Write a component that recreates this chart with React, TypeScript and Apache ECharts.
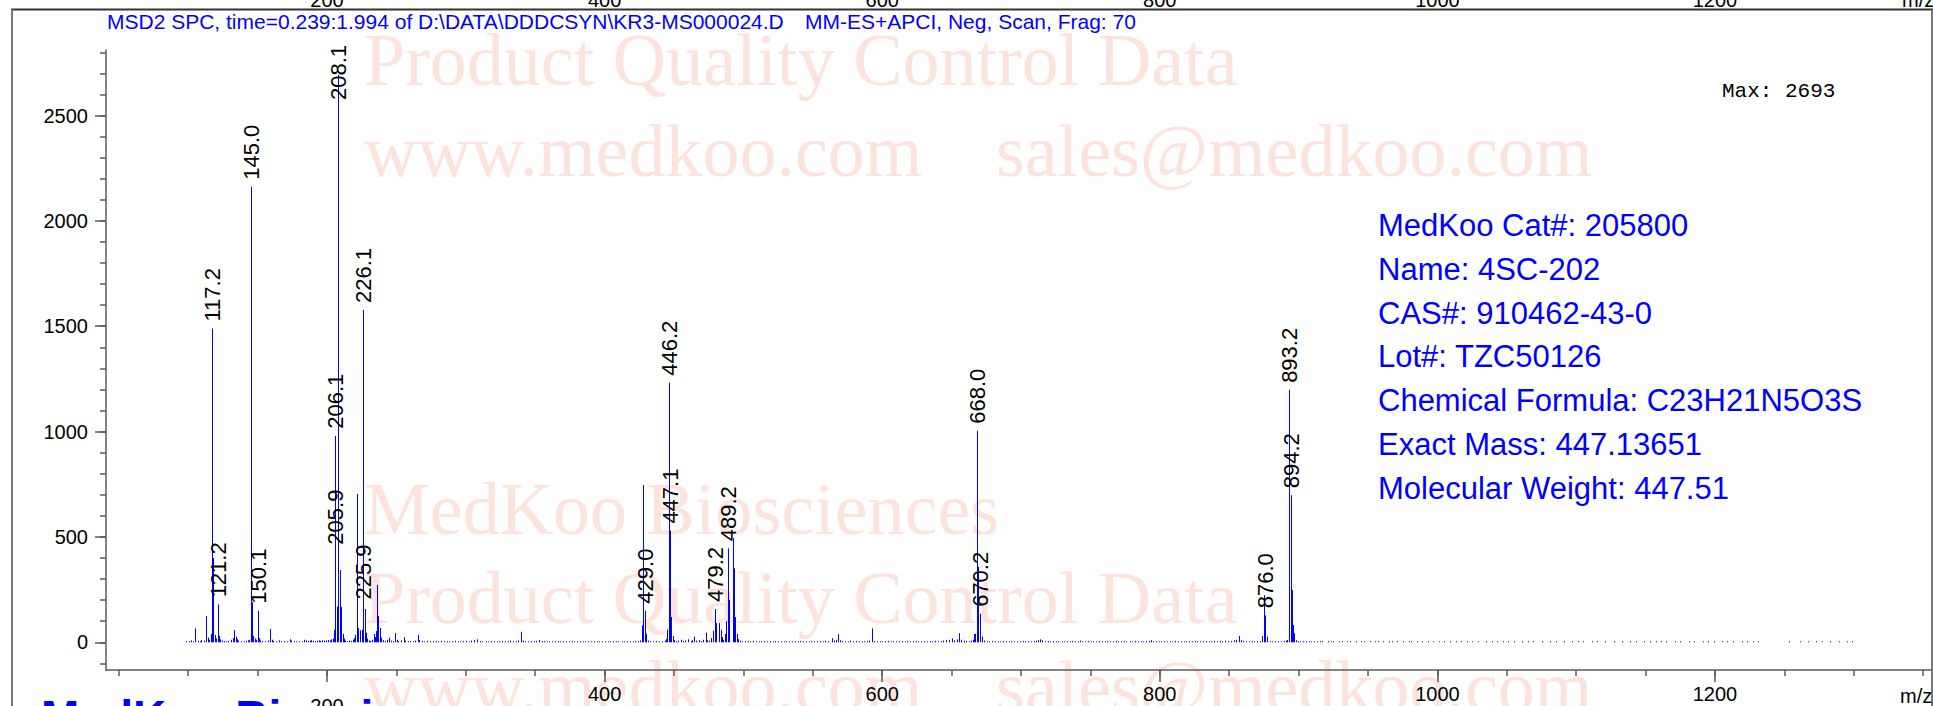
import React, { useEffect, useRef } from "react";
import * as echarts from "echarts";

// ---------------- DATA ----------------
const TITLE_LEFT = "MSD2 SPC, time=0.239:1.994 of D:\\DATA\\DDDCSYN\\KR3-MS000024.D";
const TITLE_RIGHT = "MM-ES+APCI, Neg, Scan, Frag: 70";
const MAX_TEXT = "Max: 2693";
const INFO_LINES = [
  "MedKoo Cat#: 205800",
  "Name: 4SC-202",
  "CAS#: 910462-43-0",
  "Lot#: TZC50126",
  "Chemical Formula: C23H21N5O3S",
  "Exact Mass: 447.13651",
  "Molecular Weight: 447.51",
];
const WATERMARK_LINES = [
  "Product Quality Control Data",
  "www.medkoo.com",
  "sales@medkoo.com",
  "MedKoo Biosciences",
  "Product Quality Control Data",
  "www.medkoo.com",
  "sales@medkoo.com",
];

const X_MAJOR_TICKS = [200, 400, 600, 800, 1000, 1200];
const X_MINOR_TICKS = [50, 100, 150, 200, 250, 300, 350, 400, 450, 500, 550, 600, 650, 700, 750, 800, 850, 900, 950, 1000, 1050, 1100, 1150, 1200, 1250, 1300, 1350];
const Y_MAJOR_TICKS = [0, 500, 1000, 1500, 2000, 2500];
const Y_MINOR_TICKS = [-100, 0, 100, 200, 300, 400, 500, 600, 700, 800, 900, 1000, 1100, 1200, 1300, 1400, 1500, 1600, 1700, 1800, 1900, 2000, 2100, 2200, 2300, 2400, 2500, 2600, 2700, 2800];

// main peaks: m/z and abundance
const PEAK_MZ = [
  113.0, 116.2, 117.2, 118.1, 121.2, 122.2, 133.2, 134.4, 145.0, 146.0, 147.0, 150.1, 151.1, 158.9, 173.3,
  204.9, 205.9, 206.1, 207.1, 208.1, 209.2, 210.1, 221.4, 222.6, 223.8, 225.0, 225.9, 226.1, 227.1,
  235.3, 235.8, 237.0, 238.2, 427.2, 428.0, 429.0, 430.0, 445.1, 446.2, 447.1, 448.1, 449.1,
  479.2, 480.3, 482.4, 483.6, 489.2, 489.9, 492.3, 493.2, 494.2, 667.0, 668.0, 668.8, 670.2,
  875.0, 876.0, 877.2, 893.2, 894.2, 895.1, 896.1, 897.0,
];
const PEAK_INT = [
  125, 40, 1489, 400, 180, 30, 58, 27, 2162, 190, 30, 150, 20, 63, 14,
  60, 430, 980, 170, 2693, 343, 168, 704, 68, 57, 60, 170, 1577, 158,
  53, 272, 125, 68, 80, 747, 150, 40, 60, 1232, 530, 120, 30,
  158, 91, 91, 60, 446, 200, 494, 351, 120, 40, 1004, 359, 135,
  224, 128, 27, 1198, 698, 248, 82, 43,
];

// labelled peaks
const LABEL_MZ = [117.2, 121.2, 145.0, 150.1, 205.9, 206.1, 208.1, 225.9, 226.1, 429.0, 446.2, 447.1, 479.2, 489.2, 668.0, 670.2, 876.0, 893.2, 894.2];
const LABEL_TEXT = ["117.2", "121.2", "145.0", "150.1", "205.9", "206.1", "208.1", "225.9", "226.1", "429.0", "446.2", "447.1", "479.2", "489.2", "668.0", "670.2", "876.0", "893.2", "894.2"];

// low-level baseline signals [m/z, abundance]
const NOISE: [number, number][] = [
  [98.6, 4], [100.6, 6], [102.1, 9], [103.4, 4], [105.1, 66], [107.0, 7], [108.2, 5], [109.3, 11], [111.2, 8], [114.3, 22], [115.2, 12], [119.3, 35], [120.2, 18],
  [123.1, 14], [124.3, 9], [125.5, 6], [127.2, 5], [128.9, 7], [131.0, 12], [132.1, 20], [135.3, 15], [136.2, 8], [138.1, 5], [140.2, 4], [141.5, 7], [143.1, 9], [144.1, 12],
  [148.1, 18], [149.1, 12], [152.0, 9], [153.2, 6], [155.1, 5], [157.2, 8], [160.1, 12], [161.2, 6], [163.0, 4], [165.2, 9], [167.1, 4], [169.3, 6], [171.2, 5], [174.4, 8],
  [176.2, 3], [178.0, 4], [180.0, 3], [182.1, 4], [183.5, 12], [184.8, 9], [186.1, 7], [187.4, 8], [188.8, 10], [190.1, 7], [191.3, 6], [192.7, 8], [194.0, 9], [195.2, 7],
  [196.6, 10], [198.0, 8], [199.3, 9], [200.7, 11], [202.0, 9], [203.2, 14], [204.3, 18],
  [211.2, 40], [212.3, 18], [213.2, 8], [214.6, 5], [216.1, 9], [217.3, 7], [218.5, 12], [219.6, 20], [220.5, 35], [228.2, 45], [229.1, 18], [230.2, 9], [231.3, 6],
  [232.4, 12], [233.7, 40], [234.5, 25], [239.1, 22], [240.2, 10], [241.5, 6], [243.0, 12], [244.7, 22], [246.0, 8], [247.2, 5], [249.0, 43], [250.2, 12], [251.3, 6],
  [253.1, 9], [255.2, 24], [256.4, 8], [258.1, 5], [260.0, 6], [262.2, 4], [263.4, 8], [265.4, 35], [266.5, 10], [268.1, 6], [270.2, 4], [272.1, 7], [274.0, 5],
  [276.1, 6], [278.3, 4], [280.0, 5], [282.2, 7], [284.1, 4], [286.3, 6], [288.0, 4], [290.2, 5], [292.1, 7], [294.3, 4], [296.0, 5], [298.2, 3], [300.1, 6],
  [302.3, 4], [304.1, 8], [306.2, 10], [308.4, 14], [310.2, 6], [312.0, 4], [314.3, 5], [316.1, 3], [318.2, 6], [320.0, 4], [322.3, 5], [324.1, 3], [326.2, 7],
  [328.0, 4], [330.3, 6], [332.1, 8], [334.2, 5], [336.0, 4], [337.8, 9], [339.5, 50], [341.2, 8], [343.0, 5], [345.1, 4], [347.3, 6], [349.0, 4], [350.9, 7],
  [352.7, 11], [354.6, 6], [356.4, 4], [358.3, 5], [360.2, 3], [362.0, 5], [364.1, 4], [366.2, 6], [368.0, 3], [370.1, 5], [372.2, 4], [374.0, 3], [376.3, 5],
  [378.1, 4], [380.2, 3], [382.0, 4], [384.3, 5], [386.1, 3], [388.2, 4], [390.0, 3], [392.1, 5], [394.3, 4], [396.0, 3], [398.2, 5], [400.1, 4], [402.3, 3],
  [404.0, 4], [406.2, 5], [408.1, 3], [410.0, 4], [412.2, 3], [414.1, 5], [416.3, 4], [418.0, 3], [420.2, 5], [422.1, 4], [424.0, 6], [425.6, 9],
  [431.2, 8], [433.0, 5], [435.1, 4], [437.2, 6], [439.0, 4], [441.1, 5], [443.2, 7], [444.2, 15], [450.1, 10], [451.2, 6], [453.0, 8], [455.1, 12], [456.2, 6],
  [458.0, 9], [460.1, 14], [461.9, 6], [463.2, 10], [464.4, 27], [466.1, 8], [468.0, 10], [469.3, 6], [471.0, 12], [472.7, 46], [474.1, 10], [475.3, 8], [476.6, 20],
  [477.8, 55], [484.6, 25], [485.5, 12], [486.6, 40], [487.7, 100], [495.3, 40], [496.4, 15], [497.6, 8], [499.0, 5],
  [501.0, 6], [503.2, 4], [505.1, 5], [507.0, 7], [509.2, 4], [511.1, 5], [513.0, 3], [515.2, 6], [517.1, 4], [519.0, 5], [521.2, 3], [523.1, 6], [525.0, 4],
  [527.2, 5], [529.1, 3], [531.0, 5], [533.2, 4], [535.1, 3], [537.0, 5], [539.2, 4], [541.1, 6], [543.0, 3], [545.2, 5], [547.1, 4], [549.0, 3], [551.2, 5],
  [553.1, 4], [555.0, 6], [557.2, 4], [559.1, 8], [561.0, 6], [563.7, 19], [565.2, 8], [566.4, 12], [568.2, 39], [569.4, 10], [571.0, 6], [573.1, 4], [575.2, 5],
  [577.0, 8], [579.1, 4], [581.2, 6], [583.0, 3], [585.1, 5], [587.2, 4], [589.0, 6], [590.7, 8], [592.5, 66], [594.1, 6], [596.0, 4], [598.2, 5], [600.1, 3],
  [602.0, 5], [604.2, 6], [606.1, 4], [608.0, 3], [610.2, 5], [612.1, 4], [614.0, 6], [616.2, 3], [618.1, 5], [620.0, 4], [622.2, 6], [624.1, 3], [626.0, 5],
  [628.2, 4], [630.1, 5], [632.0, 3], [634.2, 6], [636.1, 4], [638.0, 7], [640.2, 5], [642.1, 6], [644.0, 8], [646.2, 10], [648.1, 12], [650.3, 19], [652.0, 9],
  [653.6, 14], [655.5, 43], [657.0, 12], [658.8, 8], [660.5, 6], [662.2, 5], [664.0, 8], [665.5, 12], [666.2, 40],
  [671.7, 27], [673.5, 8], [675.2, 5], [677.0, 4], [679.1, 6], [681.0, 3], [683.2, 5], [685.1, 4], [687.0, 6], [689.2, 3], [691.1, 5], [693.0, 4], [695.2, 3],
  [697.1, 5], [699.0, 4], [701.2, 6], [703.1, 4], [705.0, 5], [707.2, 3], [709.1, 6], [711.0, 8], [712.5, 10], [713.7, 14], [715.2, 9], [717.0, 5], [719.1, 6],
  [721.0, 4], [723.2, 5], [725.1, 3], [727.0, 6], [729.2, 4], [731.1, 5], [733.0, 3], [735.2, 5], [737.1, 6], [739.0, 4], [741.2, 5], [742.5, 8], [744.1, 4],
  [746.0, 5], [748.2, 3], [750.1, 5], [752.0, 4], [754.2, 3], [756.1, 6], [758.0, 4], [760.2, 5], [762.1, 3], [764.0, 5], [766.2, 4], [768.1, 6], [770.0, 3],
  [772.2, 5], [774.1, 4], [776.0, 3], [778.2, 5], [780.1, 4], [782.0, 6], [784.2, 3], [786.1, 5], [788.0, 4], [790.2, 6], [792.1, 7], [793.7, 10], [795.2, 5],
  [797.0, 4], [799.2, 3], [801.1, 5], [803.0, 4], [805.2, 3], [807.1, 5], [809.0, 4], [811.2, 6], [813.1, 3], [815.0, 5], [817.2, 4], [819.1, 3], [821.0, 5],
  [823.2, 4], [825.1, 6], [827.0, 3], [829.2, 5], [831.1, 4], [833.0, 6], [835.2, 4], [837.1, 5], [839.0, 7], [841.2, 4], [843.1, 6], [845.0, 5], [847.2, 8],
  [849.1, 5], [851.0, 6], [853.2, 9], [855.1, 12], [857.2, 30], [858.6, 10], [860.1, 6], [862.0, 4], [864.2, 5], [866.1, 3], [868.0, 5], [870.2, 4], [872.1, 6], [873.6, 30],
  [879.1, 5], [881.0, 4], [883.2, 3], [885.1, 5], [887.0, 4], [889.2, 6], [890.6, 8], [891.9, 11], [898.2, 10], [899.5, 6],
  [901.3, 5], [903.1, 4], [905.0, 3], [907.2, 5], [909.1, 4], [911.0, 3], [913.2, 4], [915.1, 5], [917.0, 3], [921.2, 4], [923.1, 3], [925.0, 5], [929.2, 4],
  [931.1, 3], [935.0, 4], [937.2, 5], [941.1, 3], [945.0, 4], [947.2, 3], [951.1, 5], [955.0, 4], [957.2, 3], [961.1, 4], [965.0, 3], [967.2, 5], [971.1, 4],
  [975.0, 3], [979.2, 4], [981.1, 5], [985.0, 3], [989.2, 4], [993.1, 3], [997.0, 5], [1001.2, 4], [1005.1, 3], [1009.0, 4], [1013.2, 5], [1017.1, 3], [1021.0, 4],
  [1025.2, 3], [1029.1, 5], [1035.0, 4], [1039.2, 3], [1043.1, 4], [1047.0, 5], [1051.2, 3], [1055.1, 4], [1061.0, 3], [1065.2, 5], [1069.1, 4], [1075.0, 3],
  [1081.2, 4], [1085.1, 3], [1091.0, 5], [1097.2, 4], [1101.1, 3], [1105.0, 4], [1111.2, 5], [1115.1, 3], [1121.0, 4], [1127.2, 3], [1133.1, 5], [1139.0, 4],
  [1143.2, 3], [1149.1, 4], [1153.0, 3], [1157.2, 5], [1161.1, 4], [1165.0, 3], [1171.2, 4], [1175.1, 5], [1181.0, 3], [1185.2, 4], [1191.1, 3], [1195.0, 5],
  [1199.2, 4], [1205.1, 3], [1209.0, 4], [1213.2, 5], [1219.1, 3], [1223.0, 4], [1227.2, 3], [1231.1, 4], [1253.0, 3], [1261.2, 4], [1267.1, 3], [1273.0, 5],
  [1277.2, 4], [1283.1, 3], [1289.0, 4], [1295.2, 3], [1298.7, 4],
];

// ---------------- CHART ----------------
const SANS = "'Liberation Sans', Arial, Helvetica, sans-serif";
const SERIF = "'Liberation Serif', 'Times New Roman', serif";
const MONO = "'Liberation Mono', 'Courier New', monospace";
const BLUE = "#0000FF";
const AXIS_GRAY = "#5a5a5a";
const WM = "#FDE3DB";

export default function App() {
  const ref = useRef<HTMLDivElement>(null);

  useEffect(() => {
    if (!ref.current) return;
    const chart = echarts.init(ref.current, undefined, { renderer: "svg" });

    const sticks: [number, number][] = [
      ...NOISE,
      ...PEAK_MZ.map((m, i) => [m, PEAK_INT[i]] as [number, number]),
    ];
    const labelData = LABEL_MZ.map((m) => {
      const idx = PEAK_MZ.indexOf(m);
      return [m, idx >= 0 ? PEAK_INT[idx] : 0];
    });

    const GRID = { left: 106, top: 50, width: 1827, height: 620 };
    const plain = (v: number) => String(v);

    const wmText = (text: string, x: number, y: number) => ({
      type: "text",
      x,
      y,
      z: 0,
      silent: true,
      style: { text, fontFamily: SERIF, fontSize: 74, fill: WM, align: "left", verticalAlign: "middle" },
    });

    const option: any = {
      animation: false,
      backgroundColor: "#ffffff",
      grid: { ...GRID, containLabel: false, outerBoundsMode: "none" },
      xAxis: [
        {
          type: "value",
          min: 40.78,
          max: 1357.06,
          position: "bottom",
          axisLine: { show: true, onZero: false, lineStyle: { color: AXIS_GRAY, width: 1.5 } },
          axisTick: { show: true, customValues: X_MAJOR_TICKS, length: 12, lineStyle: { color: AXIS_GRAY, width: 1.5 } },
          axisLabel: {
            show: true,
            customValues: X_MAJOR_TICKS,
            margin: 14,
            fontSize: 20,
            fontFamily: SANS,
            color: "#000",
            formatter: (v: number) => (v === 200 ? "{low|200}" : String(v)),
            rich: { low: { fontSize: 20, fontFamily: SANS, color: "#000", padding: [12, 0, 0, 0] } },
          },
          splitLine: { show: false },
        },
        {
          type: "value",
          min: 40.78,
          max: 1357.06,
          position: "bottom",
          axisLine: { show: false, onZero: false },
          axisTick: { show: true, customValues: X_MINOR_TICKS, length: 6, lineStyle: { color: AXIS_GRAY, width: 1.5 } },
          axisLabel: { show: false },
          splitLine: { show: false },
        },
        {
          type: "value",
          min: 40.78,
          max: 1357.06,
          position: "top",
          offset: 40.5,
          axisLine: { show: false, onZero: false },
          axisTick: { show: false },
          axisLabel: { show: true, customValues: X_MAJOR_TICKS, margin: 0, fontSize: 20, fontFamily: SANS, color: "#000", formatter: plain },
          splitLine: { show: false },
        },
      ],
      yAxis: [
        {
          type: "value",
          min: -131.5,
          max: 2811,
          position: "left",
          axisLine: { show: true, onZero: false, lineStyle: { color: AXIS_GRAY, width: 1.5 } },
          axisTick: { show: true, customValues: Y_MAJOR_TICKS, length: 11, lineStyle: { color: AXIS_GRAY, width: 1.5 } },
          axisLabel: { show: true, customValues: Y_MAJOR_TICKS, margin: 18, fontSize: 20, fontFamily: SANS, color: "#000", formatter: plain },
          splitLine: { show: false },
        },
        {
          type: "value",
          min: -131.5,
          max: 2811,
          position: "left",
          axisLine: { show: false, onZero: false },
          axisTick: { show: true, customValues: Y_MINOR_TICKS, length: 6, lineStyle: { color: AXIS_GRAY, width: 1.5 } },
          axisLabel: { show: false },
          splitLine: { show: false },
        },
      ],
      graphic: {
        elements: [
          // watermark
          wmText(WATERMARK_LINES[0], 364, 60),
          wmText(WATERMARK_LINES[1], 364, 151),
          wmText(WATERMARK_LINES[2], 996, 151),
          wmText(WATERMARK_LINES[3], 364, 509),
          wmText(WATERMARK_LINES[4], 364, 598),
          wmText(WATERMARK_LINES[5], 364, 687),
          wmText(WATERMARK_LINES[6], 996, 687),
          // frame
          { type: "line", z: 5, shape: { x1: 11, y1: 9.5, x2: 1933, y2: 9.5 }, style: { stroke: "#333", lineWidth: 2 } },
          { type: "line", z: 5, shape: { x1: 12, y1: 9.5, x2: 12, y2: 706 }, style: { stroke: "#777", lineWidth: 2 } },
          { type: "line", z: 5, shape: { x1: 1932, y1: 9.5, x2: 1932, y2: 706 }, style: { stroke: "#777", lineWidth: 2 } },
          // title
          { type: "text", z: 10, x: 107, y: 21, style: { text: TITLE_LEFT, fontFamily: SANS, fontSize: 21, fill: BLUE, align: "left", verticalAlign: "middle" } },
          { type: "text", z: 10, x: 805, y: 21, style: { text: TITLE_RIGHT, fontFamily: SANS, fontSize: 21, fill: BLUE, align: "left", verticalAlign: "middle" } },
          // top-right m/z of previous panel and bottom m/z
          { type: "text", z: 10, x: 1902, y: 9.5, style: { text: "m/z", fontFamily: SANS, fontSize: 20, fill: "#000", align: "left", verticalAlign: "bottom" } },
          { type: "text", z: 10, x: 1900, y: 686, style: { text: "m/z", fontFamily: SANS, fontSize: 20, fill: "#000", align: "left", verticalAlign: "top" } },
          // Max
          { type: "text", z: 10, x: 1722, y: 91, style: { text: MAX_TEXT, fontFamily: MONO, fontSize: 21, fill: "#000", align: "left", verticalAlign: "middle" } },
          // info block
          ...INFO_LINES.map((t, i) => ({
            type: "text",
            z: 10,
            x: 1378,
            y: 225.5 + i * 43.8,
            style: { text: t, fontFamily: SANS, fontSize: 31, fill: BLUE, align: "left", verticalAlign: "middle" },
          })),
          // heading of next section (cut off at the bottom)
          { type: "text", z: 10, x: 41, y: 694, style: { text: "MedKoo Biosciences", fontFamily: SANS, fontWeight: "bold", fontSize: 46, fill: BLUE, align: "left", verticalAlign: "top" } },
        ],
      },
      series: [
        {
          type: "custom",
          xAxisIndex: 0,
          yAxisIndex: 0,
          z: 3,
          clip: false,
          data: sticks,
          encode: { x: 0, y: 1 },
          renderItem: (params: any, api: any) => {
            const m = api.value(0);
            const v = api.value(1);
            const p0 = api.coord([m, 0]);
            const p1 = api.coord([m, v]);
            const x = Math.round(p0[0]) + 0.5;
            return {
              type: "line",
              shape: { x1: x, y1: p0[1], x2: x, y2: Math.min(p1[1], p0[1] - 1) },
              style: { stroke: BLUE, lineWidth: 1 },
            };
          },
        },
        {
          type: "custom",
          xAxisIndex: 0,
          yAxisIndex: 0,
          z: 4,
          clip: false,
          data: labelData,
          encode: { x: 0, y: 1 },
          renderItem: (params: any, api: any) => {
            const m = api.value(0);
            const v = api.value(1);
            const p = api.coord([m, v]);
            const top = params.coordSys.y;
            const bottom = Math.max(p[1] - 7, top - 6 + 56);
            return {
              type: "text",
              x: Math.round(p[0]) + 0.5,
              y: bottom,
              rotation: Math.PI / 2,
              style: {
                text: LABEL_TEXT[params.dataIndex],
                fontFamily: SANS,
                fontSize: 22,
                fill: "#000",
                align: "left",
                verticalAlign: "middle",
              },
            };
          },
        },
      ],
    };

    chart.setOption(option);
    return () => chart.dispose();
  }, []);

  return (
    <div
      ref={ref}
      style={{ position: "fixed", left: 0, top: 0, width: 1933, height: 706, background: "#fff" }}
    />
  );
}
